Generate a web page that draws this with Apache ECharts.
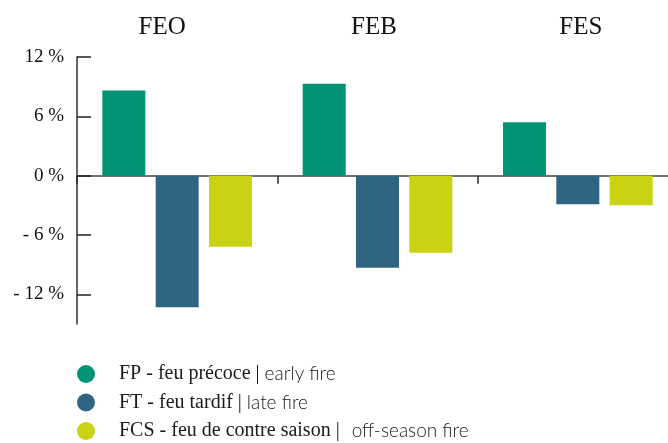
<!DOCTYPE html>
<html>
<head>
<meta charset="utf-8">
<script src="https://cdn.jsdelivr.net/npm/echarts@6/dist/echarts.min.js"></script>
<style>html,body{margin:0;padding:0;background:#fff;overflow:hidden}#c{width:678px;height:443px}</style>
</head>
<body>
<div id="c"></div>
<script>
const categories = ['FEO', 'FEB', 'FES'];
const seriesNames = ['FP - feu précoce', 'FT - feu tardif', 'FCS - feu de contre saison'];
const seriesNamesEn = ['early fire', 'late fire', 'off-season fire'];
const fpValues = [8.6, 9.3, 5.4];
const ftValues = [-13.3, -9.3, -2.9];
const fcsValues = [-7.2, -7.8, -3.0];
const yTicks = [12, 6, 0, -6, -12];
const colors = ['#009474', '#2f6482', '#c9d213'];

const serif = 'Liberation Serif';
const chart = echarts.init(document.getElementById('c'));
const allValues = [fpValues, ftValues, fcsValues];
const enMap = {};
const gapMap = {};
seriesNames.forEach((n, i) => { enMap[n] = seriesNamesEn[i]; gapMap[n] = i === 2 ? 'g2' : 'g1'; });
const catStyle = { FEO: 'l', FEB: 'm', FES: 'r' };

chart.setOption({
  animation: false,
  color: colors,
  grid: { left: 77, top: 57, width: 601, height: 267, containLabel: false },
  legend: {
    orient: 'vertical',
    left: 77,
    top: 364,
    height: 120,
    padding: 0,
    icon: 'circle',
    itemWidth: 18,
    itemHeight: 18,
    itemGap: 8.5,
    data: seriesNames,
    formatter: n => '{a|' + n + ' |}{' + gapMap[n] + '|}{b|' + enMap[n] + '}',
    textStyle: {
      padding: [0, 0, 0, 19],
      rich: {
        a: { fontFamily: serif, fontSize: 20, color: '#1a1a1a', height: 22 },
        g1: { width: 5, height: 22 },
        g2: { width: 12, height: 22 },
        b: { fontFamily: 'Lato', fontWeight: 300, fontSize: 19, color: '#1a1a1a', height: 22 }
      }
    }
  },
  xAxis: [{
    type: 'category',
    data: categories,
    axisLine: { onZero: true, lineStyle: { color: '#444', width: 1.5 } },
    axisTick: { show: true, length: 8, lineStyle: { color: '#222', width: 1.5 } },
    axisLabel: { show: false }
  }, {
    type: 'category',
    data: categories,
    position: 'top',
    axisLine: { show: false },
    axisTick: { show: false },
    axisLabel: {
      fontFamily: serif, fontSize: 25, color: '#111', margin: 17,
      formatter: v => '{' + catStyle[v] + '|' + v + '}',
      rich: {
        l: { fontFamily: serif, fontSize: 25, color: '#111', padding: [0, 30, 0, 0] },
        m: { fontFamily: serif, fontSize: 25, color: '#111', padding: [0, 7, 0, 0] },
        r: { fontFamily: serif, fontSize: 25, color: '#111', padding: [0, 0, 0, 6] }
      }
    }
  }],
  yAxis: {
    type: 'value',
    min: -15,
    max: 12,
    splitLine: { show: false },
    axisLine: { show: true, lineStyle: { color: '#333', width: 1.5 } },
    axisTick: { show: true, inside: true, length: 14, customValues: yTicks, lineStyle: { color: '#222', width: 1.5 } },
    axisLabel: {
      customValues: yTicks,
      margin: 13,
      fontFamily: serif,
      fontSize: 19,
      color: '#111',
      formatter: v => (v < 0 ? '- ' + Math.abs(v) : v) + ' %'
    }
  },
  series: seriesNames.map((n, i) => ({
    name: n,
    type: 'bar',
    data: allValues[i],
    barWidth: 43,
    barGap: '24%',
    itemStyle: { color: colors[i] }
  }))
});
</script>
</body>
</html>
